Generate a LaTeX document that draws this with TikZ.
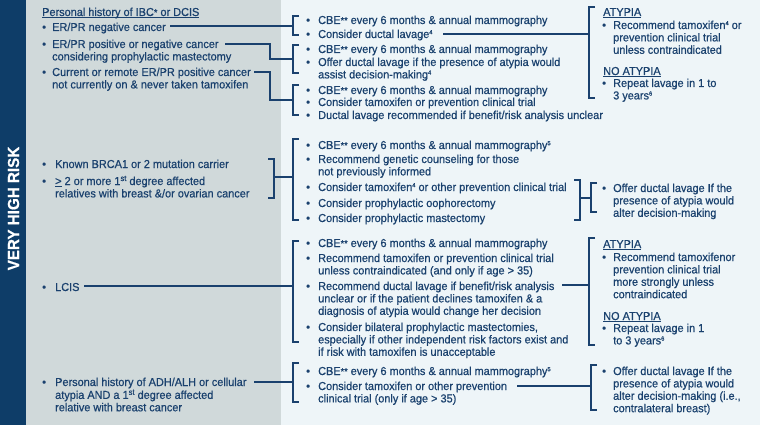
\documentclass[tikz,border=0pt]{standalone}
\usepackage{fontspec}
\setmainfont{Liberation Sans}[FakeStretch=0.95,FakeBold=0.6]
\definecolor{navy}{HTML}{1A416E}
\definecolor{barc}{HTML}{0E3D68}
\definecolor{greyp}{HTML}{D0D9DA}
\definecolor{lightp}{HTML}{EEF5F8}
\newcommand\sups[1]{\raisebox{3.8pt}{\fontsize{6}{6}\selectfont #1}}
\newcommand\myast{\raisebox{0.3pt}{\fontsize{9.5}{8}\selectfont *}}
\newcommand\itm[2]{\begin{tabular}[t]{@{}p{#1}@{}l@{}}\textbullet&#2\end{tabular}}
\newcommand\myul[1]{\setbox0\hbox{#1}\rlap{\rule[-1.8pt]{\wd0}{0.9pt}}\box0}
\begin{document}
\begin{tikzpicture}[x=1pt,y=-1pt,
  txt/.style={font=\fontsize{11.5}{12.4}\selectfont, text=navy, inner sep=0pt, anchor=base west, yshift=-1pt},
  br/.style={draw=navy, line width=1.8pt},
  conn/.style={draw=navy, line width=1.8pt}]
\useasboundingbox (0,0) rectangle (760,425);
\fill[lightp] (0,0) rectangle (760,425);
\fill[greyp] (26,0) rectangle (281,425);
\fill[barc] (0,0) rectangle (26,425);
\node[rotate=90, font=\fontsize{16}{16}\selectfont\bfseries, text=white, inner sep=0pt] (title) at (13.5,208.5) {VERY HIGH RISK};

% ---------- left column ----------
\node[txt] (h1) at (42,15) {\myul{Personal history of IBC\myast{} or DCIS}};
\node[txt] (L1) at (42,30) {\itm{10pt}{ER/PR negative cancer}};
\node[txt] (L2) at (42,47) {\itm{10pt}{ER/PR positive or negative cancer\\&considering prophylactic mastectomy}};
\node[txt] (L3) at (42,75) {\itm{10pt}{Current or remote ER/PR positive cancer\\&not currently on \& never taken tamoxifen}};
\node[txt] (L4) at (42,167) {\itm{13pt}{Known BRCA1 or 2 mutation carrier}};
\node[txt] (L5) at (42,184) {\itm{13pt}{\underline{>} 2 or more 1\raisebox{4pt}{\fontsize{8}{8}\selectfont st} degree affected\\&relatives with breast \&/or ovarian cancer}};
\node[txt] (L6) at (42,290) {\itm{13pt}{LCIS}};
\node[txt] (L7) at (42,385) {\itm{13pt}{Personal history of ADH/ALH or cellular\\&atypia AND a 1\raisebox{4pt}{\fontsize{8}{8}\selectfont st} degree affected\\&relative with breast cancer}};

% ---------- middle column ----------
\node[txt] (M1a) at (306,23) {\itm{12pt}{CBE\myast\myast{} every 6 months \& annual mammography}};
\node[txt] (M1b) at (306,37) {\itm{12pt}{Consider ductal lavage\sups{4}}};
\node[txt] (M2a) at (306,52) {\itm{12pt}{CBE\myast\myast{} every 6 months \& annual mammography}};
\node[txt] (M2b) at (306,65) {\itm{12pt}{Offer ductal lavage if the presence of atypia would\\&assist decision-making\sups{4}}};
\node[txt] (M3a) at (306,93) {\itm{12pt}{CBE\myast\myast{} every 6 months \& annual mammography}};
\node[txt] (M3b) at (306,105) {\itm{12pt}{Consider tamoxifen or prevention clinical trial}};
\node[txt] (M3c) at (306,118) {\itm{12pt}{Ductal lavage recommended if benefit/risk analysis unclear}};

\node[txt] (M4a) at (306,148) {\itm{12pt}{CBE\myast\myast{} every 6 months \& annual mammography\sups{5}}};
\node[txt] (M4b) at (306,162) {\itm{12pt}{Recommend genetic counseling for those\\&not previously informed}};
\node[txt] (M4c) at (306,190) {\itm{12pt}{Consider tamoxifen\sups{4} or other prevention clinical trial}};
\node[txt] (M4d) at (306,206) {\itm{12pt}{Consider prophylactic oophorectomy}};
\node[txt] (M4e) at (306,221) {\itm{12pt}{Consider prophylactic mastectomy}};

\node[txt] (M5a) at (306,246) {\itm{12pt}{CBE\myast\myast{} every 6 months \& annual mammography}};
\node[txt] (M5b) at (306,261) {\itm{12pt}{Recommend tamoxifen or prevention clinical trial\\&unless contraindicated (and only if age > 35)}};
\node[txt] (M5c) at (306,289) {\itm{12pt}{Recommend ductal lavage if benefit/risk analysis\\&unclear or if the patient declines tamoxifen \& a\\&diagnosis of atypia would change her decision}};
\node[txt] (M5d) at (306,330) {\itm{12pt}{Consider bilateral prophylactic mastectomies,\\&especially if other independent risk factors exist and\\&if risk with tamoxifen is unacceptable}};

\node[txt] (M6a) at (306,374) {\itm{12pt}{CBE\myast\myast{} every 6 months \& annual mammography\sups{5}}};
\node[txt] (M6b) at (306,389) {\itm{12pt}{Consider tamoxifen or other prevention\\&clinical trial (only if age > 35)}};

% ---------- right column ----------
\node[txt] (A1) at (603,15) {\myul{ATYPIA}};
\node[txt] (R1a) at (602,28) {\itm{11pt}{Recommend tamoxifen\sups{4} or\\&prevention clinical trial\\&unless contraindicated}};
\node[txt] (NA1) at (603,74) {\myul{NO ATYPIA}};
\node[txt] (R1b) at (602,86) {\itm{11pt}{Repeat lavage in 1 to\\&3 years\sups{6}}};
\node[txt] (R4) at (602,191) {\itm{11pt}{Offer ductal lavage If the\\&presence of atypia would\\&alter decision-making}};
\node[txt] (A2) at (603,247) {\myul{ATYPIA}};
\node[txt] (R2a) at (602,260) {\itm{11pt}{Recommend tamoxifenor\\&prevention clinical trial\\&more strongly unless\\&contraindicated}};
\node[txt] (NA2) at (603,319) {\myul{NO ATYPIA}};
\node[txt] (R2b) at (602,331) {\itm{11pt}{Repeat lavage in 1\\&to 3 years\sups{6}}};
\node[txt] (R3) at (602,374) {\itm{11pt}{Offer ductal lavage If the\\&presence of atypia would\\&alter decision-making (i.e.,\\&contralateral breast)}};

% ---------- brackets ----------
\draw[br] (299,16) -- (293,16) -- (293,35) -- (299,35);
\draw[br] (299,45) -- (293,45) -- (293,73) -- (299,73);
\draw[br] (299,85) -- (293,85) -- (293,115) -- (299,115);
\draw[br] (299,139) -- (293,139) -- (293,220) -- (299,220);
\draw[br] (299,241) -- (293,241) -- (293,342) -- (299,342);
\draw[br] (299,363) -- (293,363) -- (293,402) -- (299,402);
\draw[br] (268,159) -- (274,159) -- (274,198) -- (268,198);
\draw[br] (574,180) -- (580,180) -- (580,220) -- (574,220);
\draw[br] (595,7) -- (589,7) -- (589,98) -- (595,98);
\draw[br] (597,183) -- (591,183) -- (591,212) -- (597,212);
\draw[br] (595,238) -- (589,238) -- (589,345) -- (595,345);
\draw[br] (597,365) -- (591,365) -- (591,410) -- (597,410);

% ---------- connector points ----------
\coordinate (s1) at (170,26);  \coordinate (e1) at (293,26);
\coordinate (s2) at (225,44);  \coordinate (k2) at (270,59);  \coordinate (e2) at (293,59);
\coordinate (s3) at (254,72);  \coordinate (k3) at (270,100); \coordinate (e3) at (293,100);
\coordinate (s4) at (274,177); \coordinate (e4) at (293,177);
\coordinate (s5) at (84,286);  \coordinate (e5) at (293,286);
\coordinate (s6) at (254,382); \coordinate (e6) at (293,382);
\coordinate (s7) at (443,34);  \coordinate (e7) at (589,34);
\coordinate (s8) at (580,198); \coordinate (e8) at (591,198);
\coordinate (s9) at (562,285); \coordinate (e9) at (589,285);
\coordinate (s10) at (517,386); \coordinate (e10) at (591,386);

\draw[conn] (s1) -- (e1);
\draw[conn] (s2) -| (k2) -- (e2);
\draw[conn] (s3) -| (k3) -- (e3);
\draw[conn] (s4) -- (e4);
\draw[conn] (s5) -- (e5);
\draw[conn] (s6) -- (e6);
\draw[conn] (s7) -- (e7);
\draw[conn] (s8) -- (e8);
\draw[conn] (s9) -- (e9);
\draw[conn] (s10) -- (e10);
\end{tikzpicture}
\end{document}
